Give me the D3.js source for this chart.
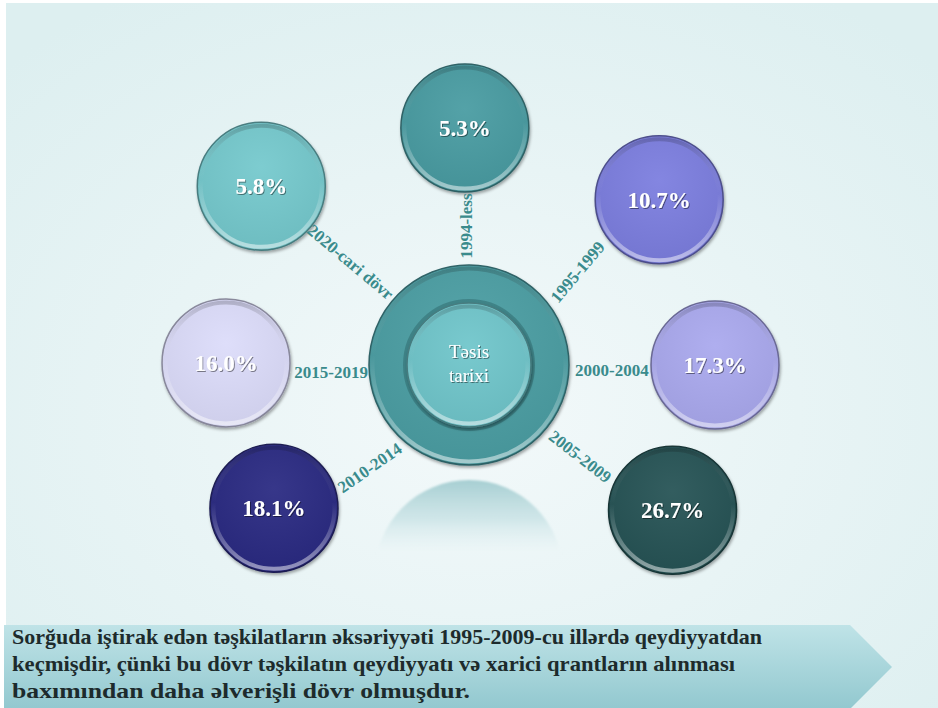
<!DOCTYPE html>
<html>
<head>
<meta charset="utf-8">
<script src="https://cdn.jsdelivr.net/npm/d3@7"></script>
<style>
  html, body { margin: 0; padding: 0; background: #ffffff; }
  svg { display: block; }
  .serif { font-family: "Liberation Serif", "Times New Roman", serif; }
</style>
</head>
<body>
<div id="chart"></div>
<script>
// 数据
var periods = ["1994-less", "1995-1999", "2000-2004", "2005-2009", "2010-2014", "2015-2019", "2020-cari dövr"];
var shares = [5.3, 10.7, 17.3, 26.7, 18.1, 16.0, 5.8];
var fills = ["#4a9ca2", "#7b7edf", "#aaa9ee", "#255355", "#2b2b82", "#dcdcfa", "#74c9cd"];
var centerTitle = ["Təsis", "tarixi"];
var noteLines = [
    "Sorğuda iştirak edən təşkilatların əksəriyyəti 1995-2009-cu illərdə qeydiyyatdan",
    "keçmişdir, çünki bu dövr təşkilatın qeydiyyatı və xarici qrantların alınması",
    "baxımından  daha əlverişli dövr olmuşdur."
];

var width = 938, height = 708;
var cx = 469, cy = 365;

var svg = d3.select("#chart").append("svg")
    .attr("width", width)
    .attr("height", height);

var defs = svg.append("defs");

// 背景渐变
var bg = defs.append("radialGradient").attr("id", "bg")
    .attr("cx", "50%").attr("cy", "58%").attr("r", "70%");
bg.append("stop").attr("offset", "0%").attr("stop-color", "#f3f9fa");
bg.append("stop").attr("offset", "100%").attr("stop-color", "#ddeff0");

// 立体边缘
var bevel = defs.append("linearGradient").attr("id", "bevel")
    .attr("x1", 0).attr("y1", 0).attr("x2", 0).attr("y2", 1);
bevel.append("stop").attr("offset", "0%").attr("stop-color", "#000").attr("stop-opacity", 0.18);
bevel.append("stop").attr("offset", "45%").attr("stop-color", "#fff").attr("stop-opacity", 0);
bevel.append("stop").attr("offset", "100%").attr("stop-color", "#fff").attr("stop-opacity", 0.5);

var shade = defs.append("radialGradient").attr("id", "shade")
    .attr("cx", "50%").attr("cy", "35%").attr("r", "65%");
shade.append("stop").attr("offset", "0%").attr("stop-color", "#fff").attr("stop-opacity", 0.06);
shade.append("stop").attr("offset", "100%").attr("stop-color", "#000").attr("stop-opacity", 0.06);

// 倒影渐变
var refl = defs.append("linearGradient").attr("id", "refl")
    .attr("gradientUnits", "userSpaceOnUse")
    .attr("x1", 0).attr("y1", 476).attr("x2", 0).attr("y2", 556);
refl.append("stop").attr("offset", "0%").attr("stop-color", "#9dc9cd").attr("stop-opacity", 0.95);
refl.append("stop").attr("offset", "55%").attr("stop-color", "#c4e0e3").attr("stop-opacity", 0.7);
refl.append("stop").attr("offset", "100%").attr("stop-color", "#e6f3f4").attr("stop-opacity", 0);

var arrowGrad = defs.append("linearGradient").attr("id", "arrowGrad")
    .attr("x1", 0).attr("y1", 0).attr("x2", 0).attr("y2", 1);
arrowGrad.append("stop").attr("offset", "0%").attr("stop-color", "#bfe3e7");
arrowGrad.append("stop").attr("offset", "100%").attr("stop-color", "#92c8cf");

var shadow = defs.append("filter").attr("id", "shadow")
    .attr("x", "-20%").attr("y", "-20%").attr("width", "140%").attr("height", "140%");
shadow.append("feDropShadow").attr("dx", 1).attr("dy", 2).attr("stdDeviation", 1.5)
    .attr("flood-color", "#000").attr("flood-opacity", 0.35);

var txtShadow = defs.append("filter").attr("id", "txtShadow");
txtShadow.append("feDropShadow").attr("dx", 1).attr("dy", 1).attr("stdDeviation", 0.6)
    .attr("flood-color", "#000").attr("flood-opacity", 0.45);

var reflBlur = defs.append("filter").attr("id", "reflBlur");
reflBlur.append("feGaussianBlur").attr("stdDeviation", 1);

// 背景
svg.append("rect").attr("x", 6).attr("y", 3)
    .attr("width", width - 6).attr("height", height - 3)
    .attr("fill", "url(#bg)");

// 布局比例尺（角度与距离）
var angle = d3.scaleOrdinal().domain(periods).range([-91, -41, 0, 35.5, 143.7, 180.5, 220.7]);
var dist = d3.scaleOrdinal().domain(periods).range([237, 252, 246, 250, 242, 243, 274]);
var labelAngle = d3.scaleOrdinal().domain(periods).range([-91.2, -40.5, 2.4, 39.6, 133.9, 177, 220.9]);
var labelDist = d3.scaleOrdinal().domain(periods).range([139, 143, 143, 144, 143, 138, 157]);
var labelRot = d3.scaleOrdinal().domain(periods).range([-90, -50, 0, 38, -35, 0, 40]);
var color = d3.scaleOrdinal().domain(periods).range(fills);
var fmt = d3.format(".1f");

function px(a, r) { return cx + r * Math.cos(a * Math.PI / 180); }
function py(a, r) { return cy + r * Math.sin(a * Math.PI / 180); }

var items = periods.map(function (p, i) {
    return {period: p, value: shares[i]};
});

// 倒影
svg.append("circle")
    .attr("cx", cx).attr("cy", 574).attr("r", 94)
    .attr("fill", "url(#refl)")
    .attr("filter", "url(#reflBlur)");

// 立体圆
function bubble(g, r, fill) {
    g.append("circle").attr("r", r)
        .attr("fill", fill)
        .attr("stroke", d3.color(fill).darker(1.3))
        .attr("stroke-width", 1.5)
        .attr("filter", "url(#shadow)");
    g.append("circle").attr("r", r).attr("fill", "url(#shade)");
    g.append("circle").attr("r", r - 3.5)
        .attr("fill", "none")
        .attr("stroke", "url(#bevel)")
        .attr("stroke-width", 4);
}

// 中心圆
var hub = svg.append("g").attr("transform", "translate(" + cx + "," + cy + ")");
bubble(hub, 100, "#4b9ea3");
hub.append("circle").attr("r", 64).attr("fill", "none")
    .attr("stroke", "#1f4f52").attr("stroke-opacity", 0.35).attr("stroke-width", 4);
bubble(hub, 62, "#70c6cb");
hub.selectAll(".hubText")
    .data(centerTitle)
    .enter().append("text")
    .attr("class", "hubText serif")
    .attr("text-anchor", "middle")
    .attr("y", function (d, i) { return -7 + i * 24; })
    .attr("font-size", 19)
    .attr("fill", "#ffffff")
    .attr("filter", "url(#txtShadow)")
    .text(function (d) { return d; });

// 外围圆
var node = svg.selectAll(".node")
    .data(items)
    .enter().append("g")
    .attr("class", "node")
    .attr("transform", function (d) {
        return "translate(" + px(angle(d.period), dist(d.period)) + "," + py(angle(d.period), dist(d.period)) + ")";
    });

node.each(function (d) {
    bubble(d3.select(this), 64, color(d.period));
});

node.append("text")
    .attr("class", "serif")
    .attr("text-anchor", "middle")
    .attr("y", 8)
    .attr("font-weight", "bold")
    .attr("font-size", 23)
    .attr("fill", "#ffffff")
    .attr("filter", "url(#txtShadow)")
    .text(function (d) { return fmt(d.value) + "%"; });

// 时间段标签
svg.selectAll(".period")
    .data(items)
    .enter().append("text")
    .attr("class", "period serif")
    .attr("transform", function (d) {
        var a = labelAngle(d.period), r = labelDist(d.period);
        return "translate(" + px(a, r) + "," + py(a, r) + ") rotate(" + labelRot(d.period) + ")";
    })
    .attr("text-anchor", "middle")
    .attr("dominant-baseline", "central")
    .attr("font-weight", "bold")
    .attr("font-size", 17)
    .attr("fill", "#3a8b8c")
    .text(function (d) { return d.period; });

// 底部箭头
var arrow = d3.path();
arrow.moveTo(4, 625);
arrow.lineTo(850, 625);
arrow.lineTo(892, 667);
arrow.lineTo(850, 709);
arrow.lineTo(4, 709);
arrow.closePath();
svg.append("path").attr("d", arrow.toString()).attr("fill", "url(#arrowGrad)");

var noteWidths = [750, 723, 458];
svg.selectAll(".note")
    .data(noteLines)
    .enter().append("text")
    .attr("class", "note serif")
    .attr("x", 12)
    .attr("y", function (d, i) { return 644 + i * 27; })
    .attr("font-weight", "bold")
    .attr("font-size", 22)
    .attr("fill", "#1d2b2c")
    .attr("textLength", function (d, i) { return noteWidths[i]; })
    .attr("lengthAdjust", "spacingAndGlyphs")
    .text(function (d) { return d; });
</script>
</body>
</html>
